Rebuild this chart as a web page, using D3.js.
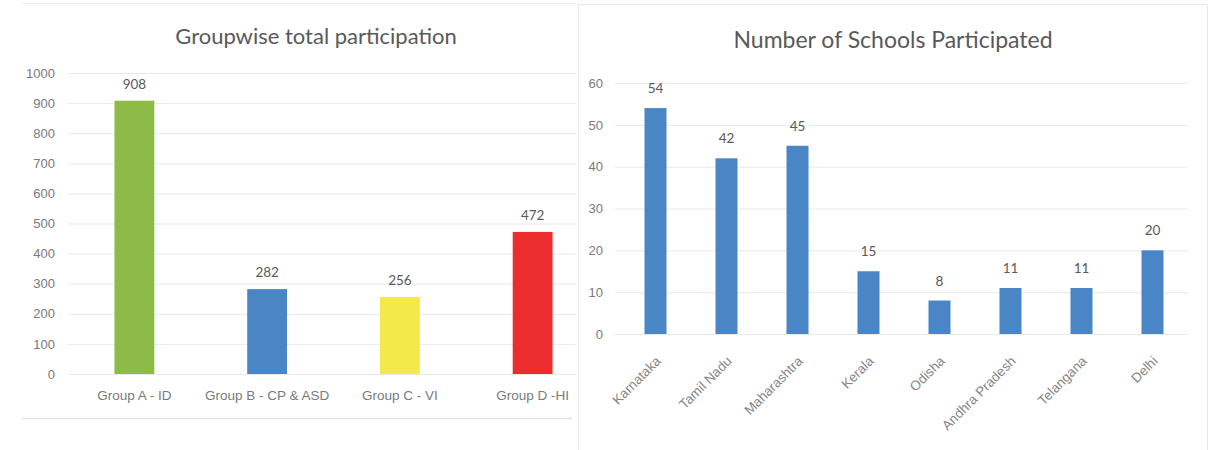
<!DOCTYPE html>
<html>
<head>
<meta charset="utf-8">
<script src="https://cdnjs.cloudflare.com/ajax/libs/d3/7.8.5/d3.min.js"></script>
<style>
  body { margin: 0; background: #fff; }
  svg { font-family: Lato, "Open Sans", sans-serif; }
</style>
</head>
<body>
<div id="chart"></div>
<script>
// data
var groups = ["Group A - ID", "Group B - CP & ASD", "Group C - VI", "Group D -HI"];
var groupTotals = [908, 282, 256, 472];
var groupColors = ["#8cbb48", "#4a85c6", "#f4e94a", "#eb2d2e"];
var groupTicks = [0, 100, 200, 300, 400, 500, 600, 700, 800, 900, 1000];

var states = ["Karnataka", "Tamil Nadu", "Maharashtra", "Kerala", "Odisha", "Andhra Pradesh", "Telangana", "Delhi"];
var schools = [54, 42, 45, 15, 8, 11, 11, 20];
var schoolTicks = [0, 10, 20, 30, 40, 50, 60];

var svgWidth = 1216;
var svgHeight = 450;

var svg = d3.select("#chart")
  .append("svg")
  .attr("width", svgWidth)
  .attr("height", svgHeight);

var gridColor = "#e9e9e9";
var textColor = "#7a7a7a";

// panel frames
svg.append("line").attr("x1", 22).attr("x2", 576).attr("y1", 3.5).attr("y2", 3.5)
  .attr("stroke", "#ececec");
svg.append("line").attr("x1", 22).attr("x2", 572).attr("y1", 418.5).attr("y2", 418.5)
  .attr("stroke", "#e4e4e4").attr("stroke-width", 1.5);
svg.append("rect").attr("x", 578.5).attr("y", 4.5).attr("width", 629).attr("height", 460)
  .attr("fill", "#fff").attr("stroke", "#e8e8e8");

// ---------- left chart ----------
var left = svg.append("g");
left.append("clipPath").attr("id", "leftClip")
  .append("rect").attr("x", 0).attr("y", 0).attr("width", 576).attr("height", 450);
var leftInner = left.append("g").attr("clip-path", "url(#leftClip)");

var x1 = d3.scaleBand().domain(groups).range([68, 599]).paddingInner(0.7).paddingOuter(0.35);
var y1 = d3.scaleLinear().domain([0, 1000]).range([374, 73]);

var y1Axis = d3.axisLeft(y1).tickValues(groupTicks).tickFormat(d3.format("d"))
  .tickSize(-(599 - 68)).tickPadding(13);
var gy1 = leftInner.append("g").attr("transform", "translate(68,0)").call(y1Axis);
gy1.select(".domain").remove();
gy1.selectAll(".tick line").attr("stroke", gridColor);
gy1.selectAll(".tick text").attr("fill", textColor).attr("font-size", 13);

leftInner.selectAll(".gbar").data(groups).enter()
  .append("rect")
  .attr("class", "gbar")
  .attr("x", function(d) { return x1(d); })
  .attr("width", x1.bandwidth())
  .attr("y", function(d, i) { return y1(groupTotals[i]); })
  .attr("height", function(d, i) { return y1(0) - y1(groupTotals[i]); })
  .attr("fill", function(d, i) { return groupColors[i]; });

leftInner.selectAll(".gval").data(groups).enter()
  .append("text")
  .attr("class", "gval")
  .attr("x", function(d) { return x1(d) + x1.bandwidth() / 2; })
  .attr("y", function(d, i) { return y1(groupTotals[i]) - 12; })
  .attr("text-anchor", "middle")
  .attr("font-size", 13.5)
  .attr("fill", "#5a5a5a")
  .text(function(d, i) { return groupTotals[i]; });

var x1Axis = d3.axisBottom(x1).tickSize(0).tickPadding(16);
var gx1 = leftInner.append("g").attr("transform", "translate(0,374)").call(x1Axis);
gx1.select(".domain").remove();
gx1.selectAll(".tick text").attr("fill", textColor).attr("font-size", 13.5);

left.append("text")
  .attr("x", 316).attr("y", 44)
  .attr("text-anchor", "middle")
  .attr("font-size", 22)
  .attr("fill", "#595959")
  .text("Groupwise total participation");

// ---------- right chart ----------
var right = svg.append("g");

var x2 = d3.scaleBand().domain(states).range([620, 1188]).paddingInner(0.69).paddingOuter(0.345);
var y2 = d3.scaleLinear().domain([0, 60]).range([334, 83]);

var y2Axis = d3.axisLeft(y2).tickValues(schoolTicks).tickSize(-(1188 - 615)).tickPadding(12);
var gy2 = right.append("g").attr("transform", "translate(615,0)").call(y2Axis);
gy2.select(".domain").remove();
gy2.selectAll(".tick line").attr("stroke", gridColor);
gy2.selectAll(".tick text").attr("fill", textColor).attr("font-size", 13);

right.selectAll(".sbar").data(states).enter()
  .append("rect")
  .attr("class", "sbar")
  .attr("x", function(d) { return x2(d); })
  .attr("width", x2.bandwidth())
  .attr("y", function(d, i) { return y2(schools[i]); })
  .attr("height", function(d, i) { return y2(0) - y2(schools[i]); })
  .attr("fill", "#4a85c6");

right.selectAll(".sval").data(states).enter()
  .append("text")
  .attr("class", "sval")
  .attr("x", function(d) { return x2(d) + x2.bandwidth() / 2; })
  .attr("y", function(d, i) { return y2(schools[i]) - 15; })
  .attr("text-anchor", "middle")
  .attr("font-size", 13.5)
  .attr("fill", "#5a5a5a")
  .text(function(d, i) { return schools[i]; });

var x2Axis = d3.axisBottom(x2).tickSize(0).tickPadding(0);
var gx2 = right.append("g").attr("transform", "translate(0,334)").call(x2Axis);
gx2.select(".domain").remove();
gx2.selectAll(".tick text")
  .attr("fill", "#858585")
  .attr("font-size", 13.5)
  .attr("text-anchor", "end")
  .attr("dy", 0)
  .attr("transform", "translate(6,28) rotate(-45)");

right.append("text")
  .attr("x", 893).attr("y", 48)
  .attr("text-anchor", "middle")
  .attr("font-size", 23)
  .attr("fill", "#595959")
  .text("Number of Schools Participated");
</script>
</body>
</html>
